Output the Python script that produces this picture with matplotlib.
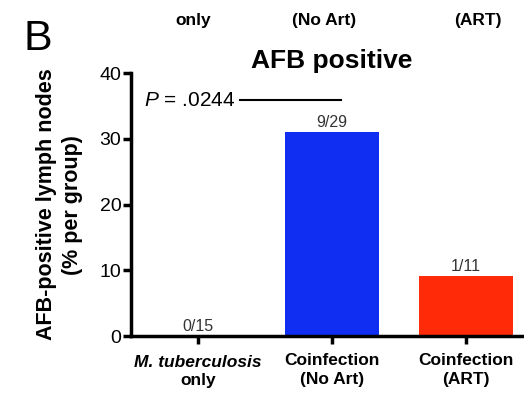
import matplotlib
matplotlib.use('Agg')
import matplotlib.pyplot as plt
import matplotlib.transforms as mtransforms
import numpy as np

plt.rcParams['font.family'] = ['Liberation Sans', 'DejaVu Sans']
plt.rcParams['mathtext.fontset'] = 'custom'
plt.rcParams['mathtext.rm'] = 'Liberation Sans'
plt.rcParams['mathtext.it'] = 'Liberation Sans:italic'

# data
groups      = ['M. tuberculosis only', 'Coinfection (No Art)', 'Coinfection (ART)']
pct         = [0.0, 31.03, 9.09]
counts      = ['0/15', '9/29', '1/11']
bar_colors  = ['#ffffff', '#0f2ef2', '#ff2a08']
yticks      = [0, 10, 20, 30, 40]
top_labels  = ['only', '(No Art)', '(ART)']

fig = plt.figure(figsize=(5.24, 3.95), dpi=100)
ax = fig.add_axes([0.25, 0.149, 0.767, 0.666])

x = np.arange(len(groups))
ax.bar(x, pct, width=0.7, color=bar_colors, edgecolor='none')

for xi, v, c in zip(x, pct, counts):
    ax.text(xi, v + 0.3, c, ha='center', va='bottom', fontsize=11.5, color='#333333')

ax.set_xlim(-0.5, 2.5)
ax.set_ylim(0, 40)
ax.set_yticks(yticks)
ax.set_yticklabels([str(t) for t in yticks], fontsize=14)
ax.set_xticks(x)
ax.set_xticklabels(['', 'Coinfection\n(No Art)', 'Coinfection\n(ART)'],
                   fontsize=12.5, fontweight='bold', linespacing=1.35)
# first category label: italic species name on top line
trans = mtransforms.blended_transform_factory(ax.transData, ax.transAxes)
ax.text(0, -0.072, 'M. tuberculosis', transform=trans, ha='center', va='top',
        fontsize=12.5, fontweight='bold', fontstyle='italic')
ax.text(0, -0.140, 'only', transform=trans, ha='center', va='top',
        fontsize=12.5, fontweight='bold')

for s in ['top', 'right']:
    ax.spines[s].set_visible(False)
for s in ['left', 'bottom']:
    ax.spines[s].set_linewidth(2.5)
ax.tick_params(axis='both', width=2.5, length=6, direction='out')
ax.tick_params(axis='y', pad=1)
ax.tick_params(axis='x', pad=6)

ax.set_ylabel('AFB-positive lymph nodes\n(% per group)', fontsize=15.5,
              fontweight='bold', linespacing=1.3, labelpad=12)
ax.set_title('AFB positive', fontsize=19, fontweight='bold', pad=2)

# significance bar
ax.text(-0.40, 35.9, '$P$ = .0244', ha='left', va='center', fontsize=15)
ax.plot([0.31, 1.07], [35.9, 35.9], color='black', lw=1.5, clip_on=False)

# panel letter and cut-off labels of previous panel
fig.text(0.045, 0.874, 'B', fontsize=31, ha='left', va='baseline')
for xp, t in zip([0.368, 0.618, 0.912], top_labels):
    fig.text(xp, 0.948, t, fontsize=12.5, fontweight='bold', ha='center', va='center')

plt.savefig('out.png', dpi=100)
